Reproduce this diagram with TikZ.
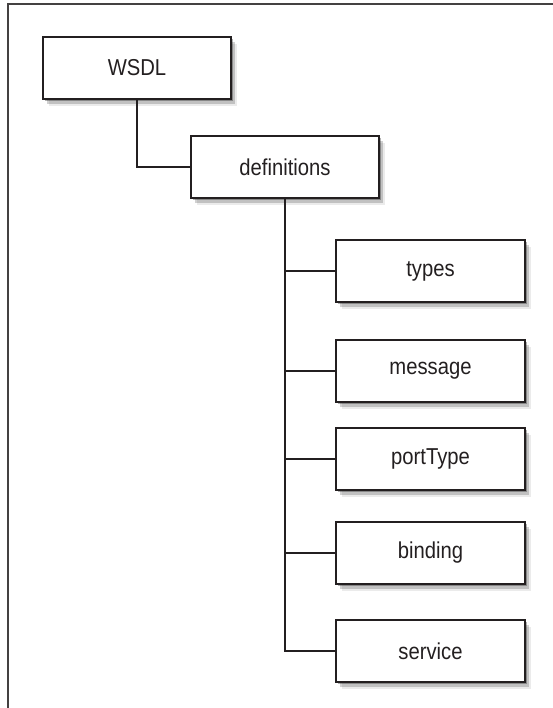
\documentclass[tikz,border=0pt]{standalone}
\usepackage{fontspec}
\setmainfont[FakeStretch=0.88]{Liberation Sans}
\usetikzlibrary{shadows}
\definecolor{ink}{HTML}{231F20}
\tikzset{
  box/.style={draw=ink, line width=1.6pt, fill=white, minimum width=188pt, minimum height=62pt,
    inner sep=0pt, text=ink, font=\fontsize{23pt}{25pt}\selectfont,
    drop shadow={shadow xshift=2pt, shadow yshift=-2pt, fill=black, opacity=0.3},
    drop shadow={shadow xshift=4pt, shadow yshift=-5pt, fill=black, opacity=0.18},
    drop shadow={shadow xshift=6pt, shadow yshift=-7pt, fill=black, opacity=0.08}},
  conn/.style={draw=ink, line width=2pt},
  frameline/.style={draw=ink!85, line width=1.8pt}
}
\begin{document}
\begin{tikzpicture}[x=1pt, y=-1pt]
\useasboundingbox (0,0) rectangle (553,708);
\coordinate (ftr) at (553,4);
\coordinate (ftl) at (8,4);
\coordinate (fbl) at (8,708);
\draw[frameline] (ftr) -- (ftl) -- (fbl);

\node[box] (wsdl) at (137,68) {WSDL};
\node[box] (defs) at (285,167) {definitions};
\node[box, minimum width=189pt] (types) at (430.5,271) {types};
\node[box, minimum width=189pt] (message) at (430.5,371) {message};
\node[box, minimum width=189pt] (porttype) at (430.5,459) {portType};
\node[box, minimum width=189pt] (binding) at (430.5,553) {binding};
\node[box, minimum width=189pt] (service) at (430.5,651) {service};

\draw[conn] (wsdl.south) |- (defs.west);
\draw[conn] (defs.south) |- (types.west);
\draw[conn] (defs.south) |- (message.west);
\draw[conn] (defs.south) |- (porttype.west);
\draw[conn] (defs.south) |- (binding.west);
\draw[conn] (defs.south) |- (service.west);
\end{tikzpicture}
\end{document}
